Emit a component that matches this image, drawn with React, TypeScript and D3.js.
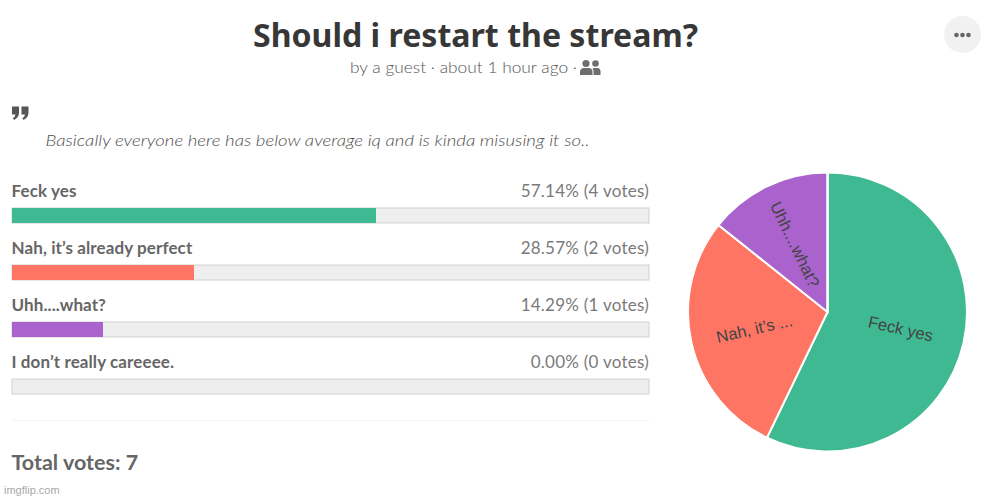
/**
 * External dependencies.
 */
import { useEffect } from "react";
import * as d3 from "d3";

const options = ["Feck yes", "Nah, it’s already perfect", "Uhh....what?", "I don’t really careeee."];
const votes = [4, 2, 1, 0];
const percents = ["57.14%", "28.57%", "14.29%", "0.00%"];
const pieLabels = ["Feck yes", "Nah, it’s ...", "Uhh....what?", ""];
const colors = ["#3eb991", "#ff7563", "#aa62cc", "#e9a820"];

const WIDTH = 1001;
const HEIGHT = 499;
const BODY_FONT = "Lato, 'Open Sans', sans-serif";

const totalVotes = d3.sum(votes);

const App = () => {
  useEffect(() => {
    document.body.style.margin = "0";
  }, []);

  const x = d3.scaleLinear().domain([0, totalVotes]).range([0, 637]);
  const y = d3
    .scaleBand<number>()
    .domain(d3.range(options.length))
    .range([208, 436])
    .paddingInner(0);

  const pie = d3
    .pie<number>()
    .sort(null)
    .value((d) => d);
  const arcs = pie(votes);
  const arc = d3
    .arc<d3.PieArcDatum<number>>()
    .innerRadius(0)
    .outerRadius(139.5);
  const labelArc = d3
    .arc<d3.PieArcDatum<number>>()
    .innerRadius(75)
    .outerRadius(75);

  const labelRotation = (d: d3.PieArcDatum<number>) => {
    const mid = (((d.startAngle + d.endAngle) / 2) * 180) / Math.PI;
    return mid < 180 ? mid - 90 : mid - 270;
  };

  return (
    <svg
      width={WIDTH}
      height={HEIGHT}
      style={{ display: "block", background: "#fff" }}
    >
      {/* header */}
      <text
        x={475.5}
        y={47}
        textAnchor="middle"
        fontFamily="'Noto Sans', sans-serif"
        fontWeight={700}
        fontSize={33}
        fill="#373737"
        textLength={445}
        lengthAdjust="spacingAndGlyphs"
      >
        Should i restart the stream?
      </text>
      <text
        x={350}
        y={73}
        fontFamily={BODY_FONT}
        fontWeight={300}
        fontSize={16}
        fill="#555"
        textLength={227}
        lengthAdjust="spacingAndGlyphs"
      >
        by a guest · about 1 hour ago ·
      </text>
      <g fill="#6e6e6e">
        <circle cx={586} cy={63.5} r={3.6} />
        <circle cx={595.5} cy={63.5} r={3.3} />
        <path d="M580 75 v-3 q0 -4 4 -4 h4.5 q4 0 4 4 v3 z" />
        <path d="M593.5 75 v-3.5 q0 -2 -1 -3.5 h5 q3 0 3 3.5 v3.5 z" />
      </g>
      <circle cx={962.5} cy={34.5} r={18.5} fill="#f1f1f1" />
      <g fill="#666">
        <circle cx={956.5} cy={35} r={2.3} />
        <circle cx={962.5} cy={35} r={2.3} />
        <circle cx={968.5} cy={35} r={2.3} />
      </g>

      {/* quote */}
      <g fill="#555">
        <path d="M12 106.5 h7 v6 q0 5 -5 7.5 l-1.2 -2 q2.5 -1.2 2.7 -3.5 h-3.5 z" />
        <path d="M21.5 106.5 h7 v6 q0 5 -5 7.5 l-1.2 -2 q2.5 -1.2 2.7 -3.5 h-3.5 z" />
      </g>
      <text
        x={45.5}
        y={146}
        fontFamily={BODY_FONT}
        fontStyle="italic"
        fontWeight={300}
        fontSize={16}
        fill="#4f4f4f"
        textLength={544}
        lengthAdjust="spacingAndGlyphs"
      >
        Basically everyone here has below average iq and is kinda misusing it so..
      </text>

      {/* option rows */}
      {options.map((option, i) => {
        const top = y(i) as number;
        return (
          <g key={option}>
            <text
              x={11.5}
              y={top - 11.5}
              fontFamily={BODY_FONT}
              fontWeight={700}
              fontSize={17}
              letterSpacing={0.1}
              fill="#666"
            >
              {option}
            </text>
            <text
              x={649}
              y={top - 11.5}
              textAnchor="end"
              fontFamily={BODY_FONT}
              fontWeight={400}
              fontSize={17}
              letterSpacing={0.25}
              fill="#7a7a7a"
            >
              {`${percents[i]} (${votes[i]} votes)`}
            </text>
            <rect
              x={12}
              y={top}
              width={637}
              height={15}
              fill="#eeeeee"
              stroke="#d2d2d2"
              strokeWidth={1}
            />
            <rect x={12} y={top} width={x(votes[i])} height={15} fill={colors[i]} />
          </g>
        );
      })}

      {/* footer */}
      <line x1={12} x2={649} y1={420.5} y2={420.5} stroke="#f3f3f3" />
      <text
        x={11.5}
        y={469.5}
        fontFamily={BODY_FONT}
        fontWeight={700}
        fontSize={21.5}
        fill="#666"
      >
        Total votes: {totalVotes}
      </text>
      <text
        x={4}
        y={494}
        fontFamily="'Liberation Sans', sans-serif"
        fontSize={11}
        fill="#a8a8a8"
      >
        imgflip.com
      </text>

      {/* pie */}
      <g transform="translate(827.5,312)">
        {arcs.map((d, i) => (
          <path key={i} d={arc(d) ?? ""} fill={colors[i]} stroke="#fff" strokeWidth={2} />
        ))}
        {arcs.map((d, i) => {
          if (!pieLabels[i]) return null;
          const [cx, cy] = labelArc.centroid(d);
          return (
            <text
              key={i}
              transform={`translate(${cx},${cy}) rotate(${labelRotation(d)})`}
              textAnchor="middle"
              dy="0.35em"
              fontFamily="'Liberation Sans', sans-serif"
              fontSize={16.5}
              fill="#444"
            >
              {pieLabels[i]}
            </text>
          );
        })}
      </g>
    </svg>
  );
};

export default App;
